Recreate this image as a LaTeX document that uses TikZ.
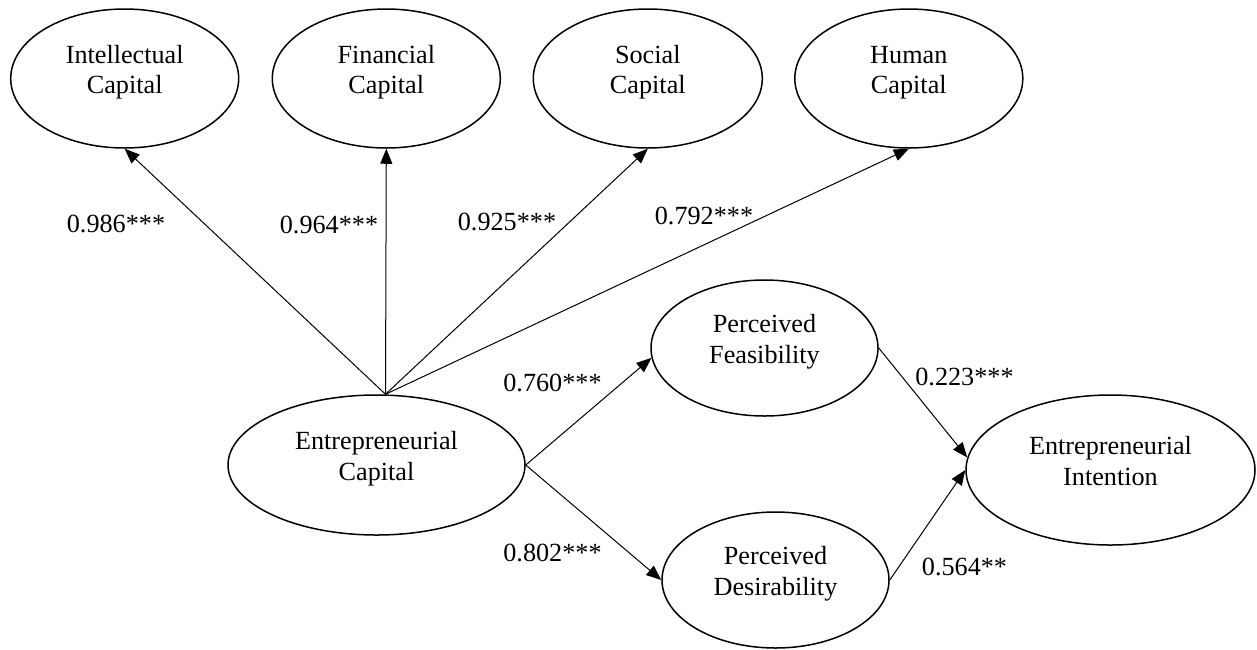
\documentclass[tikz,border=0pt]{standalone}
\usepackage{fontspec}
\setmainfont{Liberation Serif}
\usetikzlibrary{shapes.geometric,arrows.meta,calc}
\newcommand\twoline[2]{\rule{0pt}{18pt}#1\\#2\rule[-18pt]{0pt}{18pt}}
\begin{document}
\begin{tikzpicture}[x=1pt,y=-1pt,
  lat/.style={ellipse,draw,line width=1.5pt,inner sep=0pt,align=center,
    font=\fontsize{26.2pt}{30.5pt}\selectfont},
  arr/.style={-{Triangle[length=15pt,width=12pt]},line width=1pt},
  coef/.style={inner sep=0pt,font=\fontsize{26.2pt}{30.5pt}\selectfont}]
\useasboundingbox (0,0) rectangle (1257,649);
% latent variables
\node[lat,minimum width=228pt,minimum height=139pt] (IC) at (124.7,78.5) {\twoline{Intellectual}{Capital}};
\node[lat,minimum width=228pt,minimum height=139pt] (FC) at (386.3,78.5) {\twoline{Financial}{Capital}};
\node[lat,minimum width=229pt,minimum height=139pt] (SC) at (647.8,78.5) {\twoline{Social}{Capital}};
\node[lat,minimum width=228pt,minimum height=139pt] (HC) at (908.8,78.5) {\twoline{Human}{Capital}};
\node[lat,minimum width=297pt,minimum height=140pt] (EC) at (376.5,465) {\twoline{Entrepreneurial}{Capital}};
\node[lat,minimum width=227pt,minimum height=136pt] (PF) at (764.5,348) {\twoline{Perceived}{Feasibility}};
\node[lat,minimum width=227pt,minimum height=136pt] (PD) at (775.5,580) {\twoline{Perceived}{Desirability}};
\node[lat,minimum width=289pt,minimum height=150pt] (EI) at (1110.5,470) {\twoline{Entrepreneurial}{Intention}};
% connectors
\coordinate (ECtop) at ($(EC.north)+(9,0)$);
\draw[arr] (ECtop) -- (IC.south);
\draw[arr] (ECtop) -- (FC.south);
\draw[arr] (ECtop) -- (SC.south);
\draw[arr] (ECtop) -- (HC.south);
\draw[arr] (EC.east) -- (PF.185);
\draw[arr] (EC.east) -- (PD.west);
\draw[arr] (PF.east) -- (EI.175);
\draw[arr] (PD.east) -- (EI.west);
% coefficients
\node[coef] (c1) at (116,224) {0.986***};
\node[coef] (c2) at (329,225) {0.964***};
\node[coef] (c3) at (507,221.5) {0.925***};
\node[coef] (c4) at (704,216) {0.792***};
\node[coef] (c5) at (552.5,382.5) {0.760***};
\node[coef] (c6) at (552.5,553.3) {0.802***};
\node[coef] (c7) at (964.5,377) {0.223***};
\node[coef] (c8) at (964.5,567) {0.564**};
\end{tikzpicture}
\end{document}
